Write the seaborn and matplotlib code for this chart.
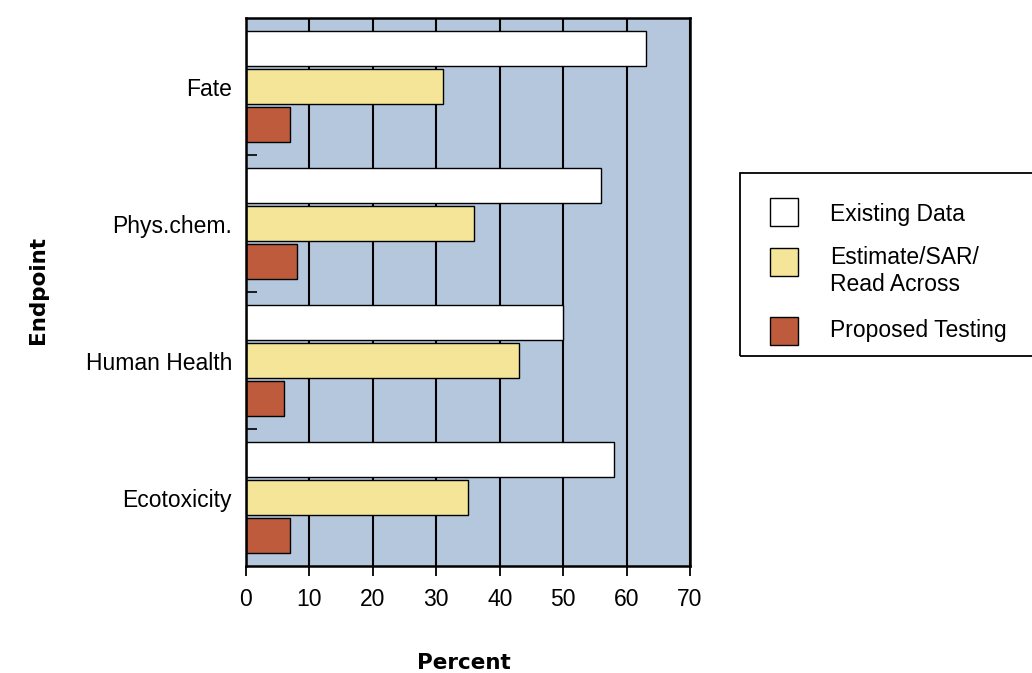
import matplotlib
matplotlib.use("Agg")
import matplotlib.pyplot as plt
from matplotlib.patches import Rectangle
import seaborn as sns
import pandas as pd

# Share of endpoints covered by each data source (%)
endpoints = ["Fate", "Phys.chem.", "Human Health", "Ecotoxicity"]
sources = ["Existing Data", "Estimate/SAR/\nRead Across", "Proposed Testing"]
existing = [63, 56, 50, 58]
estimate = [31, 36, 43, 35]
proposed = [7, 8, 6, 7]
x_ticks = [0, 10, 20, 30, 40, 50, 60, 70]

bar_colors = ["#FFFFFF", "#F4E598", "#BF5B3D"]
panel_color = "#B5C7DC"

df = pd.DataFrame({
    "Endpoint": endpoints * 3,
    "Source": [s for s in sources for _ in endpoints],
    "Percent": existing + estimate + proposed,
})

sns.set_theme(style="white")
plt.rcParams["font.family"] = ["Liberation Sans", "DejaVu Sans"]
plt.rcParams["text.color"] = "black"
plt.rcParams["xtick.color"] = "black"
plt.rcParams["ytick.color"] = "black"
plt.rcParams["axes.labelcolor"] = "black"

W, H = 1032, 673
fig = plt.figure(figsize=(W / 100, H / 100), dpi=100)
ax = fig.add_axes([246 / W, 1 - 566 / H, 444 / W, 548 / H])

sns.barplot(
    data=df, y="Endpoint", x="Percent", hue="Source",
    order=endpoints, hue_order=sources, palette=bar_colors,
    saturation=1, width=0.825, gap=0.07,
    edgecolor="black", linewidth=1.0, legend=False, orient="h", ax=ax,
)

ax.set_facecolor(panel_color)
ax.set_xlim(0, 70)
ax.set_ylim(3.5, -0.5)
ax.set_xticks(x_ticks)
ax.set_xticklabels([str(t) for t in x_ticks])
ax.xaxis.grid(True, color="black", linewidth=1.5)
ax.yaxis.grid(False)
ax.set_axisbelow(True)
for sp in ax.spines.values():
    sp.set_color("black")
    sp.set_linewidth(1.8)
    sp.set_visible(True)

ax.tick_params(axis="x", which="major", direction="out", length=7, width=1.3,
               color="black", labelsize=16.5, pad=9, labelcolor="black", bottom=True)
ax.tick_params(axis="y", which="major", length=0, labelsize=16.5, pad=10, labelcolor="black")
ax.set_yticks([0.5, 1.5, 2.5], minor=True)
ax.tick_params(axis="y", which="minor", direction="in", length=8, width=1.2,
               color="black", left=True)

ax.set_xlabel("")
ax.set_ylabel("")
fig.text(464 / W, 1 - 663 / H, "Percent", ha="center", va="center", color="black",
         fontsize=15.5, fontweight="bold", family="DejaVu Sans")
fig.text(38 / W, 1 - 290 / H, "Endpoint", ha="center", va="center", rotation=90,
         color="black", fontsize=15.5, fontweight="bold", family="DejaVu Sans")

# Legend panel at the right
fig.add_artist(Rectangle((740 / W, 1 - 356 / H), 320 / W, 183 / H,
                         transform=fig.transFigure, fill=False,
                         edgecolor="black", linewidth=1.3, clip_on=False))
handle_tops = [198, 248, 317]
text_centers = [214, 271, 330]
for label, col, top, tc in zip(sources, bar_colors, handle_tops, text_centers):
    fig.add_artist(Rectangle((770 / W, 1 - (top + 28) / H), 28 / W, 28 / H,
                             transform=fig.transFigure, facecolor=col,
                             edgecolor="black", linewidth=1.0))
    fig.text(830 / W, 1 - tc / H, label, ha="left", va="center",
             fontsize=16.5, linespacing=1.2, color="black")

fig.savefig("out.png", dpi=100)
